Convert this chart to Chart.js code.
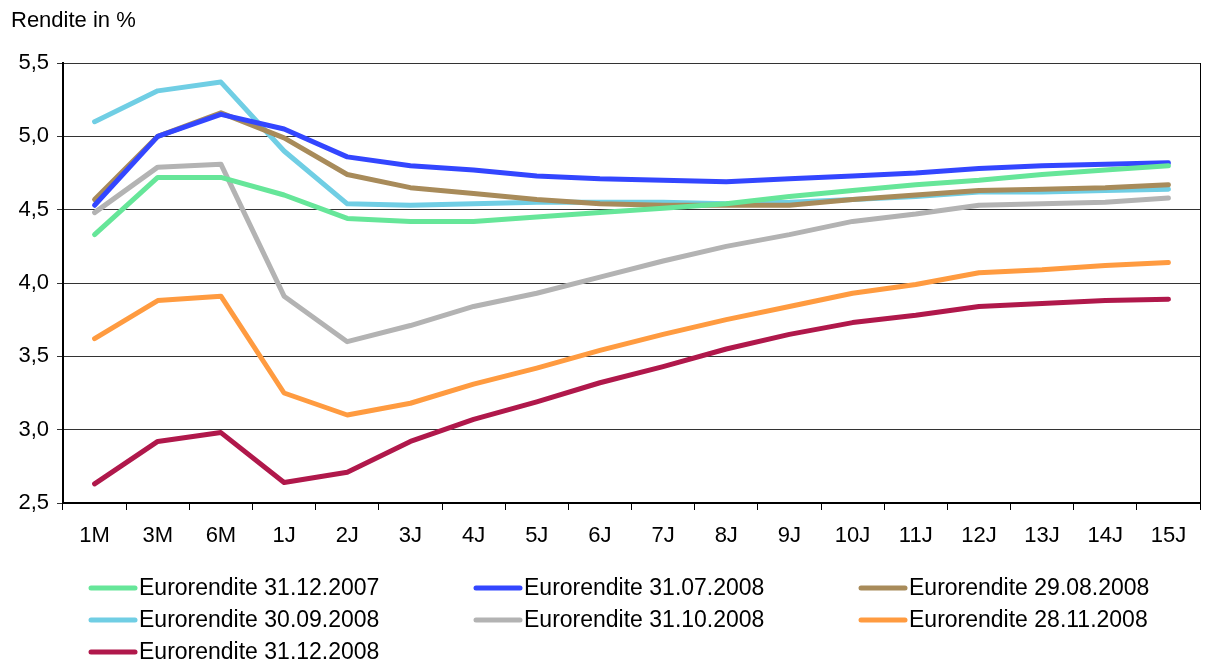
<!DOCTYPE html>
<html>
<head>
<meta charset="utf-8">
<script src="https://cdn.jsdelivr.net/npm/chart.js@4"></script>
<style>
  html, body { margin: 0; padding: 0; background: #fff; }
  #wrap { width: 1208px; height: 663px; position: relative; }
</style>
</head>
<body>
<div id="wrap"><canvas id="chart" width="1208" height="663"></canvas></div>
<script>
// Laufzeiten
const labels = ['1M', '3M', '6M', '1J', '2J', '3J', '4J', '5J', '6J', '7J', '8J', '9J', '10J', '11J', '12J', '13J', '14J', '15J'];

// Renditen in %
const r20071231 = [4.33, 4.72, 4.72, 4.60, 4.44, 4.42, 4.42, 4.45, 4.48, 4.51, 4.54, 4.59, 4.63, 4.67, 4.70, 4.74, 4.77, 4.80];
const r20080731 = [4.53, 5.00, 5.15, 5.05, 4.86, 4.80, 4.77, 4.73, 4.71, 4.70, 4.69, 4.71, 4.73, 4.75, 4.78, 4.80, 4.81, 4.82];
const r20080829 = [4.57, 5.00, 5.16, 4.99, 4.74, 4.65, 4.61, 4.57, 4.54, 4.53, 4.53, 4.53, 4.57, 4.60, 4.63, 4.64, 4.65, 4.67];
const r20080930 = [5.10, 5.31, 5.37, 4.90, 4.54, 4.53, 4.54, 4.55, 4.55, 4.55, 4.54, 4.55, 4.57, 4.59, 4.62, 4.62, 4.63, 4.64];
const r20081031 = [4.48, 4.79, 4.81, 3.91, 3.60, 3.71, 3.84, 3.93, 4.04, 4.15, 4.25, 4.33, 4.42, 4.47, 4.53, 4.54, 4.55, 4.58];
const r20081128 = [3.62, 3.88, 3.91, 3.25, 3.10, 3.18, 3.31, 3.42, 3.54, 3.65, 3.75, 3.84, 3.93, 3.99, 4.07, 4.09, 4.12, 4.14];
const r20081231 = [2.63, 2.92, 2.98, 2.64, 2.71, 2.92, 3.07, 3.19, 3.32, 3.43, 3.55, 3.65, 3.73, 3.78, 3.84, 3.86, 3.88, 3.89];

const FONT = '"Liberation Sans", Arial, sans-serif';

function ds(label, data, color) {
  return {
    label, data,
    borderColor: color,
    backgroundColor: color,
    borderWidth: 5,
    pointRadius: 0,
    tension: 0,
    fill: false,
    borderCapStyle: 'round',
    borderJoinStyle: 'round'
  };
}

// Titel, Rahmen rechts und Legende im Raster
const extras = {
  id: 'extras',
  afterDraw(chart) {
    const ctx = chart.ctx;
    const a = chart.chartArea;
    ctx.save();
    ctx.strokeStyle = '#000';
    ctx.lineWidth = 1;
    ctx.beginPath();
    ctx.moveTo(Math.round(a.right) + 0.5, a.top);
    ctx.lineTo(Math.round(a.right) + 0.5, a.bottom);
    ctx.stroke();

    ctx.fillStyle = '#000';
    ctx.font = '22px ' + FONT;
    ctx.textBaseline = 'middle';
    ctx.textAlign = 'left';
    ctx.fillText('Rendite in %', 11, 21);

    const cols = [89, 474, 859];
    const rows = [588, 620, 652];
    ctx.font = '23px ' + FONT;
    chart.data.datasets.forEach((d, i) => {
      const x = cols[i % 3];
      const y = rows[Math.floor(i / 3)];
      ctx.strokeStyle = d.borderColor;
      ctx.lineWidth = 5;
      ctx.lineCap = 'round';
      ctx.beginPath();
      ctx.moveTo(x + 2, y);
      ctx.lineTo(x + 46, y);
      ctx.stroke();
      ctx.fillStyle = '#000';
      ctx.fillText(d.label, x + 50, y + 1);
    });
    ctx.restore();
  }
};

new Chart(document.getElementById('chart'), {
  type: 'line',
  data: {
    labels,
    datasets: [
      ds('Eurorendite 31.12.2007', r20071231, '#66e699'),
      ds('Eurorendite 31.07.2008', r20080731, '#3346ff'),
      ds('Eurorendite 29.08.2008', r20080829, '#a88b5a'),
      ds('Eurorendite 30.09.2008', r20080930, '#70cee4'),
      ds('Eurorendite 31.10.2008', r20081031, '#b3b3b3'),
      ds('Eurorendite 28.11.2008', r20081128, '#ff9b40'),
      ds('Eurorendite 31.12.2008', r20081231, '#b0184b')
    ]
  },
  options: {
    responsive: false,
    animation: false,
    layout: { padding: { left: 0, top: 63, right: 8, bottom: 110 } },
    plugins: { legend: { display: false }, tooltip: { enabled: false } },
    scales: {
      x: {
        offset: true,
        grid: { offset: true, drawOnChartArea: false, drawTicks: true, tickLength: 7, color: '#000' },
        border: { color: '#000', width: 2 },
        ticks: { color: '#000', font: { family: FONT, size: 22 }, padding: 13, maxRotation: 0, autoSkip: false },
        afterFit(s) { s.height = 50; }
      },
      y: {
        min: 2.5, max: 5.5,
        grid: { color: '#333', lineWidth: 1, drawTicks: true, tickLength: 6 },
        border: { color: '#000', width: 2 },
        ticks: {
          stepSize: 0.5, color: '#000', padding: 8,
          font: { family: FONT, size: 22 },
          callback: v => v.toFixed(1).replace('.', ',')
        },
        afterFit(s) { s.width = 63; }
      }
    }
  },
  plugins: [extras]
});
</script>
</body>
</html>
